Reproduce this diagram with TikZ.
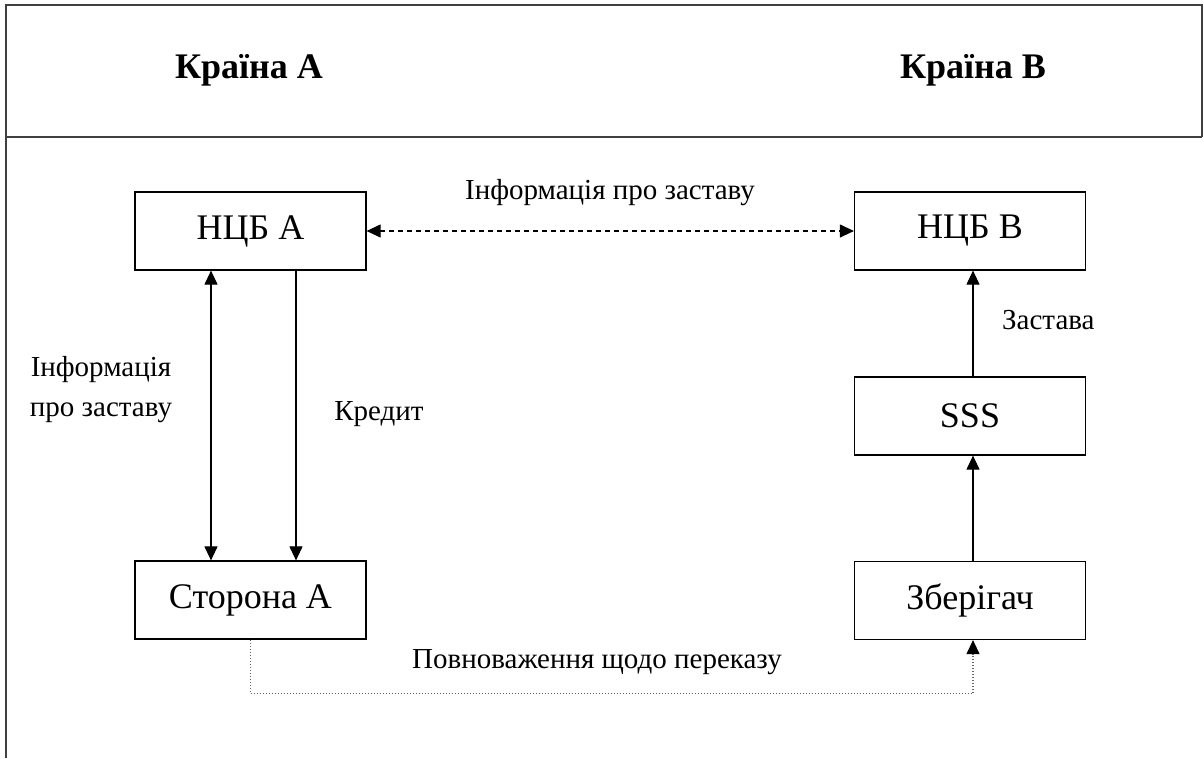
\documentclass[tikz,border=0pt]{standalone}
\usepackage{fontspec}
\setmainfont{Liberation Serif}
\usetikzlibrary{arrows.meta}
\begin{document}
\begin{tikzpicture}[x=1pt,y=-1pt,
  frameline/.style={line width=1.4pt,draw=black!75},
  boxnode/.style={draw,line width=1.2pt,minimum width=231pt,minimum height=78pt,inner sep=0pt,font=\fontsize{36}{43}\selectfont},
  headnode/.style={font=\fontsize{36}{43}\selectfont\bfseries,inner sep=0pt},
  labelnode/.style={font=\fontsize{29}{40}\selectfont,inner sep=0pt},
  tip/.style={-{Triangle[length=14pt,width=13pt,color=black]}},
  solidarrow/.style={line width=1.1pt,tip},
  dashedarrow/.style={line width=1.1pt,{Triangle[length=14pt,width=13pt]}-{Triangle[length=14pt,width=13pt]},dash pattern=on 5pt off 4pt},
  dottedarrow/.style={line width=1.1pt,draw=black!60,dash pattern=on 1.5pt off 1.5pt,tip}
]
\useasboundingbox (0,0) rectangle (1204,758);
% frame
\draw[frameline] (6,758) -- (6,5) -- (1202,5) -- (1202,137);
\draw[frameline] (6,137) -- (1202,137);
% headings
\node[headnode] (hA) at (249,70) {Країна А};
\node[headnode] (hB) at (973,70) {Країна В};
% boxes
\node[boxnode] (nA) at (250.5,231) {НЦБ А};
\node[boxnode] (nB) at (970,231) {НЦБ В};
\node[boxnode] (sss) at (970,416) {SSS};
\node[boxnode] (zb) at (970,600.5) {Зберігач};
\node[boxnode] (sA) at (250.5,600) {Сторона А};
% labels
\node[labelnode] (l1) at (610,193) {Інформація про заставу};
\node[labelnode,align=center] (l2) at (101,390) {Інформація\\про заставу};
\node[labelnode] (l3) at (379,414) {Кредит};
\node[labelnode,anchor=west] (l4) at (1002,320) {Застава};
\node[labelnode] (l5) at (597,662) {Повноваження щодо переказу};
% connectors
\draw[dashedarrow] (nA.east) -- (nB.west);
\draw[line width=1.1pt,{Triangle[length=14pt,width=13pt]}-{Triangle[length=14pt,width=13pt]}] ([xshift=-39.5pt]nA.south) -- ([xshift=-39.5pt]sA.north);
\draw[solidarrow] ([xshift=45.5pt]nA.south) -- ([xshift=45.5pt]sA.north);
\draw[solidarrow] ([xshift=3pt]sss.north) -- ([xshift=3pt]nB.south);
\draw[solidarrow] ([xshift=3pt]zb.north) -- ([xshift=3pt]sss.south);
\draw[dottedarrow] (sA.south) -- ++(0,54) -| ([xshift=3pt]zb.south);
\end{tikzpicture}
\end{document}
